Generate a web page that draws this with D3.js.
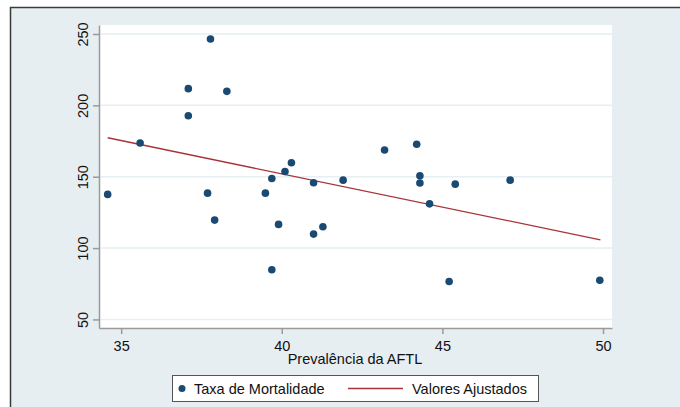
<!DOCTYPE html>
<html>
<head>
<meta charset="utf-8">
<script src="https://cdn.jsdelivr.net/npm/d3@7"></script>
<style>
  body { margin: 0; background: #fff; }
  svg { display: block; font-family: "Liberation Sans", Arial, sans-serif; }
</style>
</head>
<body>
<div id="chart"></div>
<script>
// prevalence (x) and mortality rate (y)
const prevalencia = [34.58, 35.59, 37.09, 37.09, 37.78, 38.29, 37.69, 37.91, 39.49, 39.69,
                     40.10, 40.30, 39.90, 40.99, 40.99, 41.28, 39.69, 41.91, 43.20, 44.20,
                     44.30, 44.30, 44.60, 45.40, 45.21, 47.11, 49.90];
const mortalidade = [137.6, 173.6, 211.7, 192.7, 246.5, 209.8, 138.5, 119.6, 138.5, 148.8,
                     153.7, 159.8, 116.6, 145.8, 109.8, 114.9, 84.8, 147.6, 168.7, 172.7,
                     150.7, 145.6, 131.0, 144.8, 76.6, 147.6, 77.5];

// fitted line endpoints
const ajusteX = [34.58, 49.92];
const ajusteY = [177.3, 105.8];

const xTicks = [35, 40, 45, 50];
const yTicks = [50, 100, 150, 200, 250];

const W = 680, H = 407;
const svg = d3.select("#chart").append("svg")
    .attr("width", W)
    .attr("height", H);

// outer background + frame
svg.append("rect")
    .attr("x", 10.5).attr("y", 7.5)
    .attr("width", W).attr("height", H)
    .attr("fill", "#e7eef1")
    .attr("stroke", "#3a3a3a")
    .attr("stroke-width", 1.5);

const plot = {left: 99, right: 612, top: 25, bottom: 328};

svg.append("rect")
    .attr("x", plot.left).attr("y", plot.top)
    .attr("width", plot.right - plot.left)
    .attr("height", plot.bottom - plot.top)
    .attr("fill", "#ffffff");

const x = d3.scaleLinear().domain([34.31, 50.28]).range([plot.left, plot.right]);
const y = d3.scaleLinear().domain([44.0, 256.3]).range([plot.bottom, plot.top]);

// grid lines
svg.append("g")
    .selectAll("line")
    .data(yTicks)
    .join("line")
    .attr("x1", plot.left).attr("x2", plot.right)
    .attr("y1", d => y(d)).attr("y2", d => y(d))
    .attr("stroke", "#e6eff2")
    .attr("stroke-width", 1.5);

// x axis
const xAxis = svg.append("g")
    .attr("transform", `translate(0,${plot.bottom})`)
    .call(d3.axisBottom(x).tickValues(xTicks).tickSize(6).tickSizeOuter(0));
xAxis.select(".domain").attr("stroke", "#9a9a9a").attr("stroke-width", 1.5);
xAxis.selectAll(".tick line").attr("stroke", "#9a9a9a").attr("stroke-width", 1.5);
xAxis.selectAll(".tick text")
    .attr("font-size", 14.5)
    .attr("font-family", "Liberation Sans, Arial, sans-serif")
    .attr("fill", "#111")
    .attr("dy", null)
    .attr("y", 23);

// y axis
const yAxis = svg.append("g")
    .attr("transform", `translate(${plot.left},0)`)
    .call(d3.axisLeft(y).tickValues(yTicks).tickSize(6).tickSizeOuter(0));
yAxis.select(".domain").attr("stroke", "#9a9a9a").attr("stroke-width", 1.5);
yAxis.selectAll(".tick line").attr("stroke", "#9a9a9a").attr("stroke-width", 1.5);
yAxis.selectAll(".tick text")
    .attr("font-size", 14.5)
    .attr("font-family", "Liberation Sans, Arial, sans-serif")
    .attr("fill", "#111")
    .attr("x", null).attr("dy", null)
    .attr("text-anchor", "middle")
    .attr("transform", "translate(-11,0) rotate(-90)");

// axis title
svg.append("text")
    .attr("x", 355)
    .attr("y", 364)
    .attr("text-anchor", "middle")
    .attr("font-size", 14.5)
    .attr("fill", "#111")
    .text("Prevalência da AFTL");

// fitted line
svg.append("line")
    .attr("x1", x(ajusteX[0])).attr("y1", y(ajusteY[0]))
    .attr("x2", x(ajusteX[1])).attr("y2", y(ajusteY[1]))
    .attr("stroke", "#a8323a")
    .attr("stroke-width", 1.3);

// points
svg.append("g")
    .selectAll("circle")
    .data(prevalencia.map((p, i) => ({p: p, m: mortalidade[i]})))
    .join("circle")
    .attr("cx", d => x(d.p))
    .attr("cy", d => y(d.m))
    .attr("r", 3.8)
    .attr("fill", "#1a4a72");

// legend
const legend = svg.append("g");
legend.append("rect")
    .attr("x", 172.5).attr("y", 375.5)
    .attr("width", 366).attr("height", 26)
    .attr("fill", "#fff")
    .attr("stroke", "#555")
    .attr("stroke-width", 1);
legend.append("circle")
    .attr("cx", 182).attr("cy", 388.5)
    .attr("r", 3.5)
    .attr("fill", "#1a4a72");
legend.append("text")
    .attr("x", 194).attr("y", 394)
    .attr("font-size", 14.5)
    .attr("fill", "#111")
    .text("Taxa de Mortalidade");
legend.append("line")
    .attr("x1", 348).attr("x2", 403)
    .attr("y1", 388.5).attr("y2", 388.5)
    .attr("stroke", "#a8323a")
    .attr("stroke-width", 1.3);
legend.append("text")
    .attr("x", 412).attr("y", 394)
    .attr("font-size", 14.5)
    .attr("fill", "#111")
    .text("Valores Ajustados");
</script>
</body>
</html>
